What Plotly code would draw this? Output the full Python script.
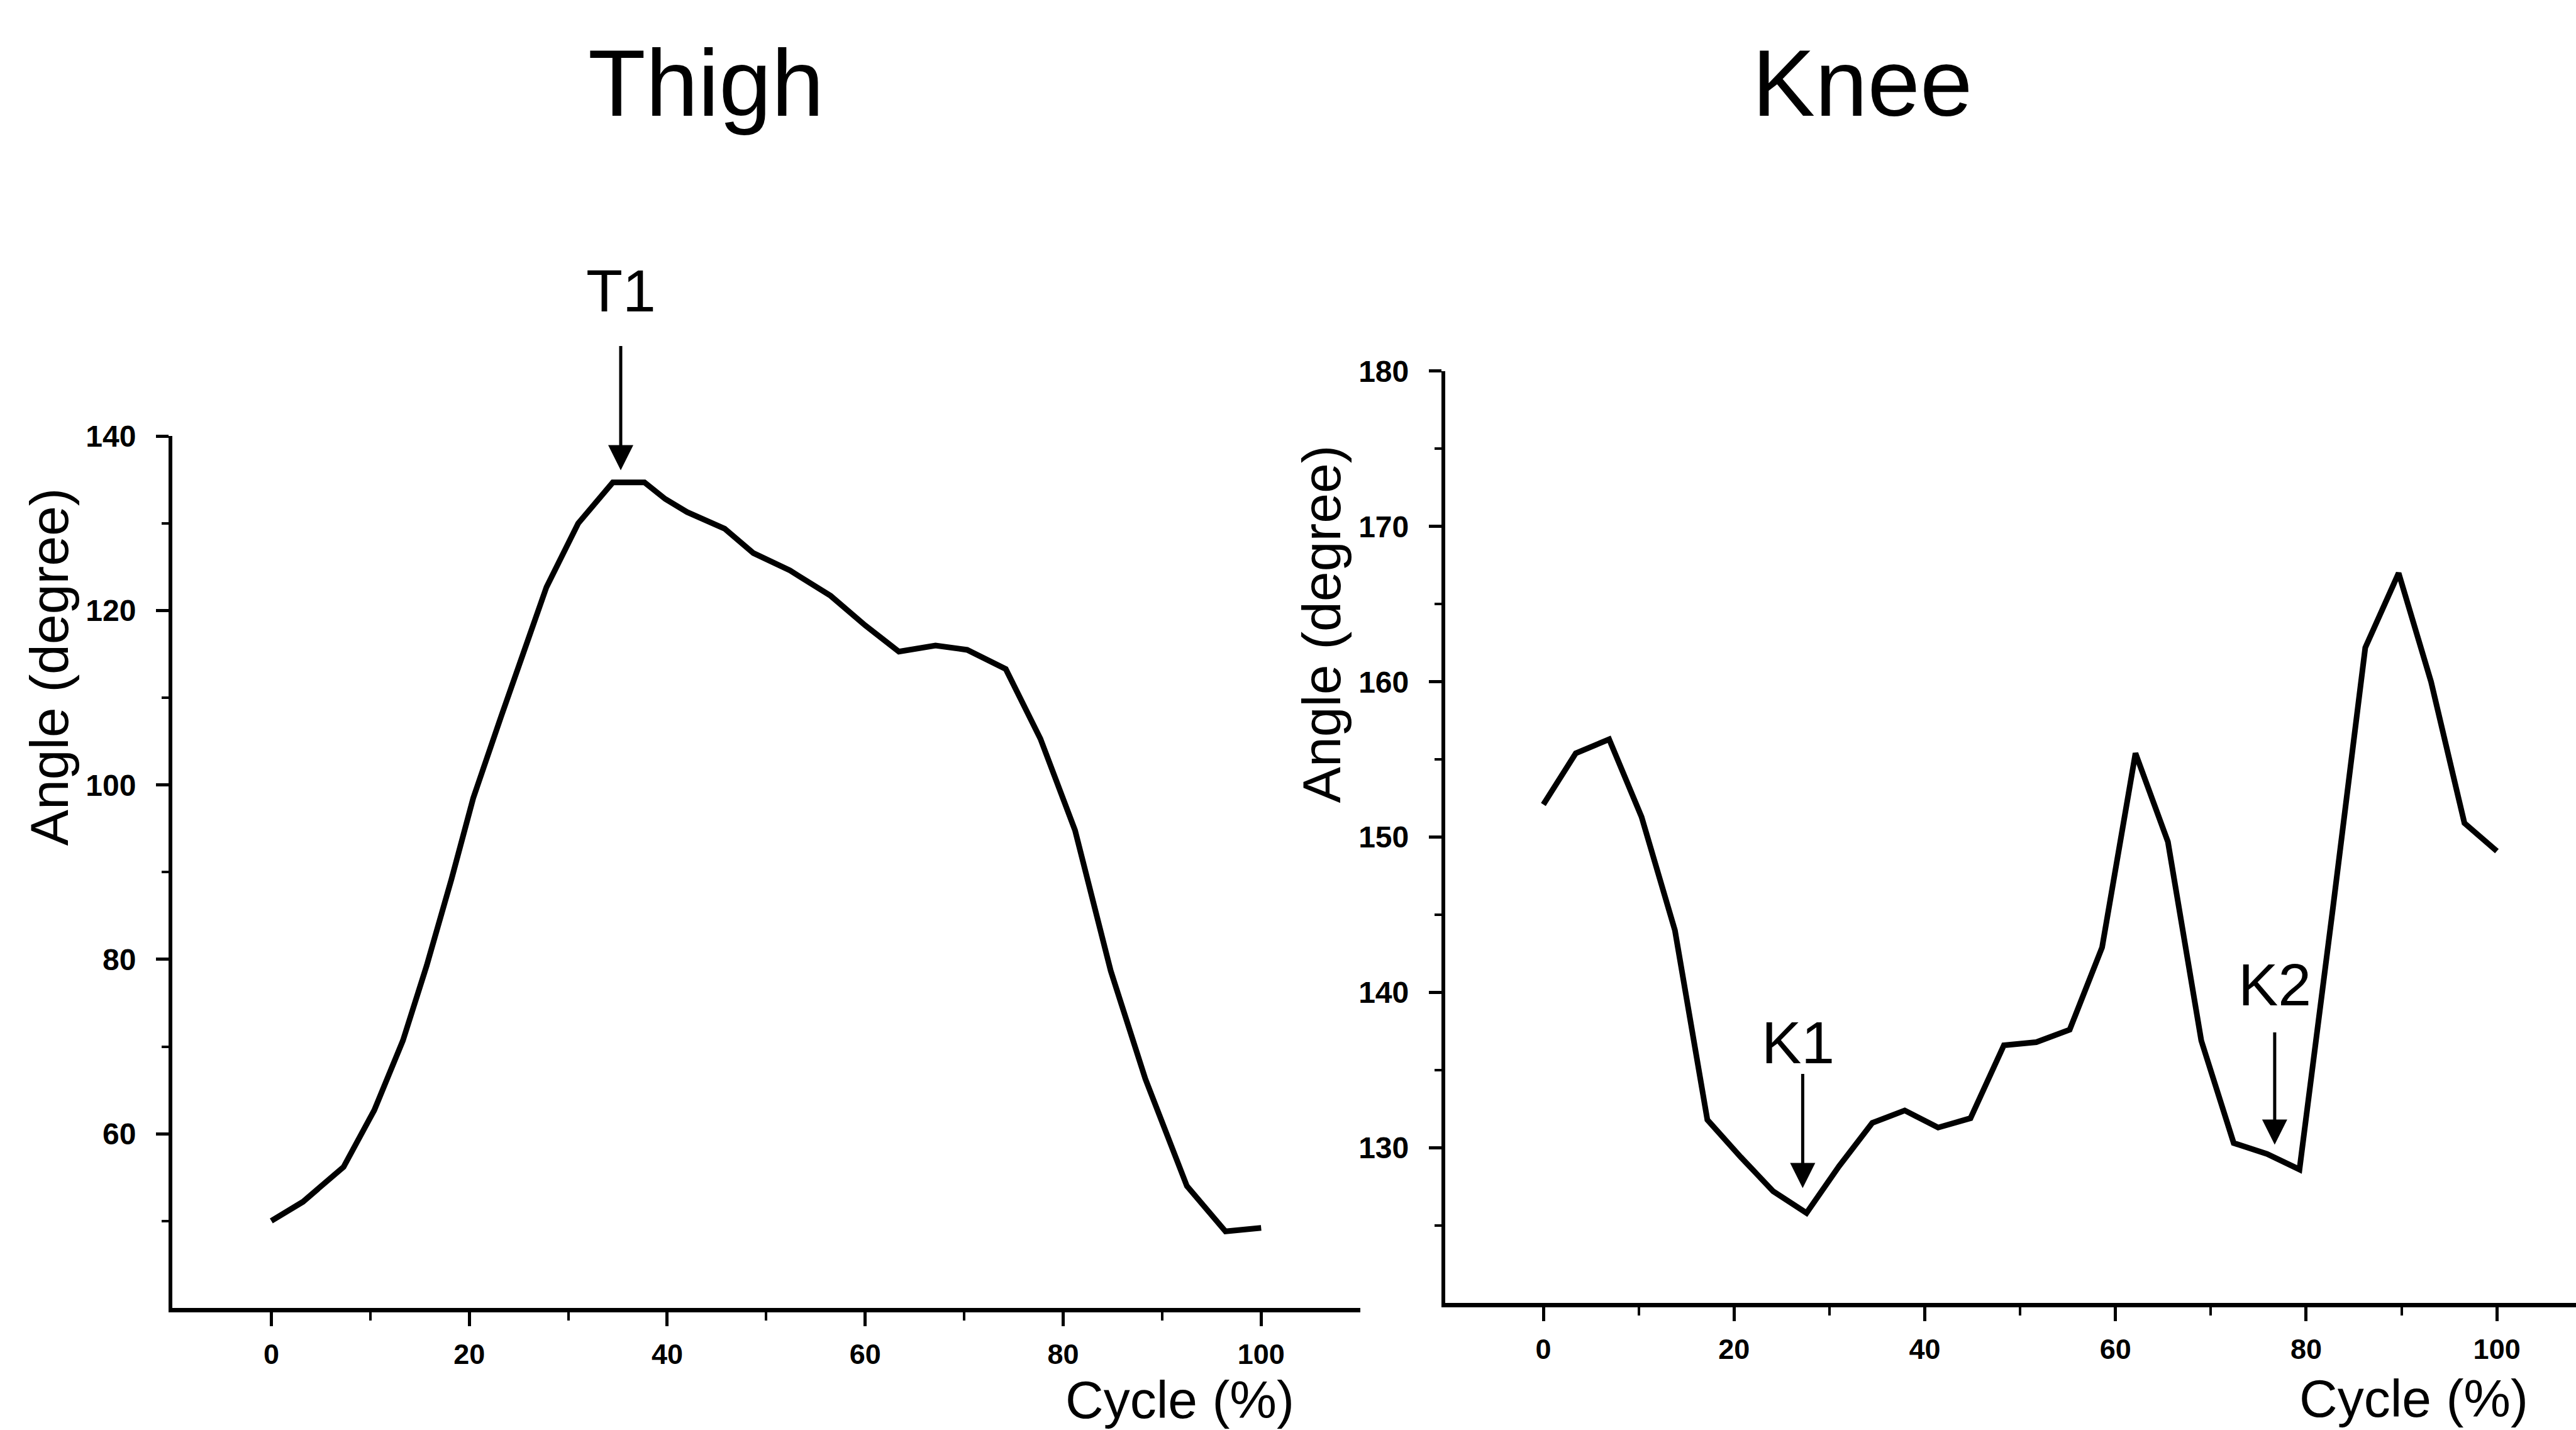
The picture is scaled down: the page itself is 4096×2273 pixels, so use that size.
import plotly.graph_objects as go

# ---------------- data ----------------
thigh_cycle = [0, 3.2, 7.3, 10.4, 13.3, 15.7, 18.2, 20.4, 23.2, 26.3, 27.8, 31.0, 34.5, 37.7,
               39.8, 42.0, 45.8, 48.7, 52.4, 56.5, 60.0, 63.4, 67.1, 70.3, 74.2, 77.7, 81.2,
               84.8, 88.3, 92.5, 96.4, 100]
thigh_angle = [50.0, 52.2, 56.2, 62.7, 70.7, 79.3, 89.2, 98.5, 107.8, 117.7, 122.7, 130.0, 134.7,
               134.7, 132.8, 131.3, 129.4, 126.6, 124.6, 121.7, 118.3, 115.3, 116.0, 115.5, 113.3,
               105.3, 94.8, 78.7, 66.3, 54.0, 48.8, 49.2]

knee_cycle = [0, 3.4, 6.9, 10.3, 13.8, 17.2, 20.7, 24.1, 27.6, 31.0, 34.5, 37.9, 41.4, 44.8, 48.3,
              51.7, 55.2, 58.6, 62.1, 65.5, 69.0, 72.4, 75.9, 79.3, 82.8, 86.2, 89.7, 93.1, 96.6, 100]
knee_angle = [152.1, 155.4, 156.3, 151.3, 144.0, 131.8, 129.4, 127.2, 125.8, 128.8, 131.6, 132.4,
              131.3, 131.9, 136.6, 136.8, 137.6, 142.9, 155.4, 149.7, 136.9, 130.3, 129.6, 128.6,
              145.4, 162.2, 167.0, 160.0, 150.9, 149.1]

x_ticks = [0, 20, 40, 60, 80, 100]
x_minor = [10, 30, 50, 70, 90]
thigh_yticks = [60, 80, 100, 120, 140]
thigh_yminor = [50, 70, 90, 110, 130]
knee_yticks = [130, 140, 150, 160, 170, 180]
knee_yminor = [125, 135, 145, 155, 165, 175]

titles = ["Thigh", "Knee"]
x_title = "Cycle (%)"
y_title = "Angle (degree)"

# ---------------- figure ----------------
W, H = 4096, 2273
FONT = "Liberation Sans, Arial, sans-serif"
BLACK = "#000000"

fig = go.Figure()
fig.add_trace(go.Scatter(x=thigh_cycle, y=thigh_angle, mode="lines",
                         line=dict(color=BLACK, width=9), xaxis="x", yaxis="y",
                         showlegend=False, hoverinfo="skip"))
fig.add_trace(go.Scatter(x=knee_cycle, y=knee_angle, mode="lines",
                         line=dict(color=BLACK, width=9), xaxis="x2", yaxis="y2",
                         showlegend=False, hoverinfo="skip"))

ytickfont = dict(family=FONT, size=48, color=BLACK, weight="bold")
xtickfont = dict(family=FONT, size=45, color=BLACK, weight="bold")


def xaxis(domain, rng):
    return dict(domain=domain, range=rng, showgrid=False, zeroline=False,
                showline=True, linecolor=BLACK, linewidth=7,
                tickmode="array", tickvals=x_ticks, ticks="outside",
                ticklen=22, tickwidth=5, tickcolor=BLACK, tickfont=xtickfont,
                ticklabelstandoff=6,
                minor=dict(tickmode="array", tickvals=x_minor, ticks="outside",
                           ticklen=13, tickwidth=4, tickcolor=BLACK))


def yaxis(domain, rng, tv, mv, anchor):
    return dict(domain=domain, range=rng, showgrid=False, zeroline=False,
                showline=True, linecolor=BLACK, linewidth=6, anchor=anchor,
                tickmode="array", tickvals=tv, ticks="outside",
                ticklen=20, tickwidth=5, tickcolor=BLACK, tickfont=ytickfont,
                ticklabelstandoff=22,
                minor=dict(tickmode="array", tickvals=mv, ticks="outside",
                           ticklen=11, tickwidth=4, tickcolor=BLACK))


fig.update_layout(
    width=W, height=H,
    margin=dict(l=0, r=0, t=0, b=0),
    paper_bgcolor="white", plot_bgcolor="white",
    xaxis=dict(xaxis([0.0669, 0.528], [-10, 110]), anchor="y"),
    yaxis=yaxis([0.0862, 0.703], [40, 140], thigh_yticks, thigh_yminor, "x"),
    xaxis2=dict(xaxis([0.561, 1.0], [-10.3, 108.3]), anchor="y2"),
    yaxis2=yaxis([0.0898, 0.749], [120, 180], knee_yticks, knee_yminor, "x2"),
)

ann = []
# panel titles
for t, px in zip(titles, [0.274, 0.723]):
    ann.append(dict(text=t, xref="paper", yref="paper", x=px, y=0.953,
                    xanchor="center", yanchor="middle", showarrow=False,
                    font=dict(family=FONT, size=150, color=BLACK)))
# axis titles
for px, py in [(0.458, 0.0), (0.937, 0.001)]:
    ann.append(dict(text=x_title, xref="paper", yref="paper", x=px, y=py,
                    xanchor="center", yanchor="bottom", showarrow=False, borderpad=0,
                    font=dict(family=FONT, size=84, color=BLACK)))
for px, py in [(0.019, 0.540), (0.513, 0.570)]:
    ann.append(dict(text=y_title, xref="paper", yref="paper", x=px, y=py,
                    xanchor="center", yanchor="middle", showarrow=False, textangle=-90,
                    font=dict(family=FONT, size=86, color=BLACK)))
# event labels
for lab, px, py in [("T1", 0.241, 0.806), ("K1", 0.698, 0.2740), ("K2", 0.883, 0.3150)]:
    ann.append(dict(text=lab, xref="paper", yref="paper", x=px, y=py,
                    xanchor="center", yanchor="middle", showarrow=False,
                    font=dict(family=FONT, size=95, color=BLACK)))
# arrows
for xr, yr, hx, hy, L in [("x", "y", 35.3, 136.1, 199), ("x2", "y2", 27.2, 127.4, 183),
                          ("x2", "y2", 76.7, 130.2, 180)]:
    ann.append(dict(text="", xref=xr, yref=yr, x=hx, y=hy, ax=0, ay=-L,
                    showarrow=True, arrowhead=2, arrowsize=1.6, arrowwidth=5,
                    arrowcolor=BLACK))

fig.update_layout(annotations=ann)
fig.write_html("out.html")
